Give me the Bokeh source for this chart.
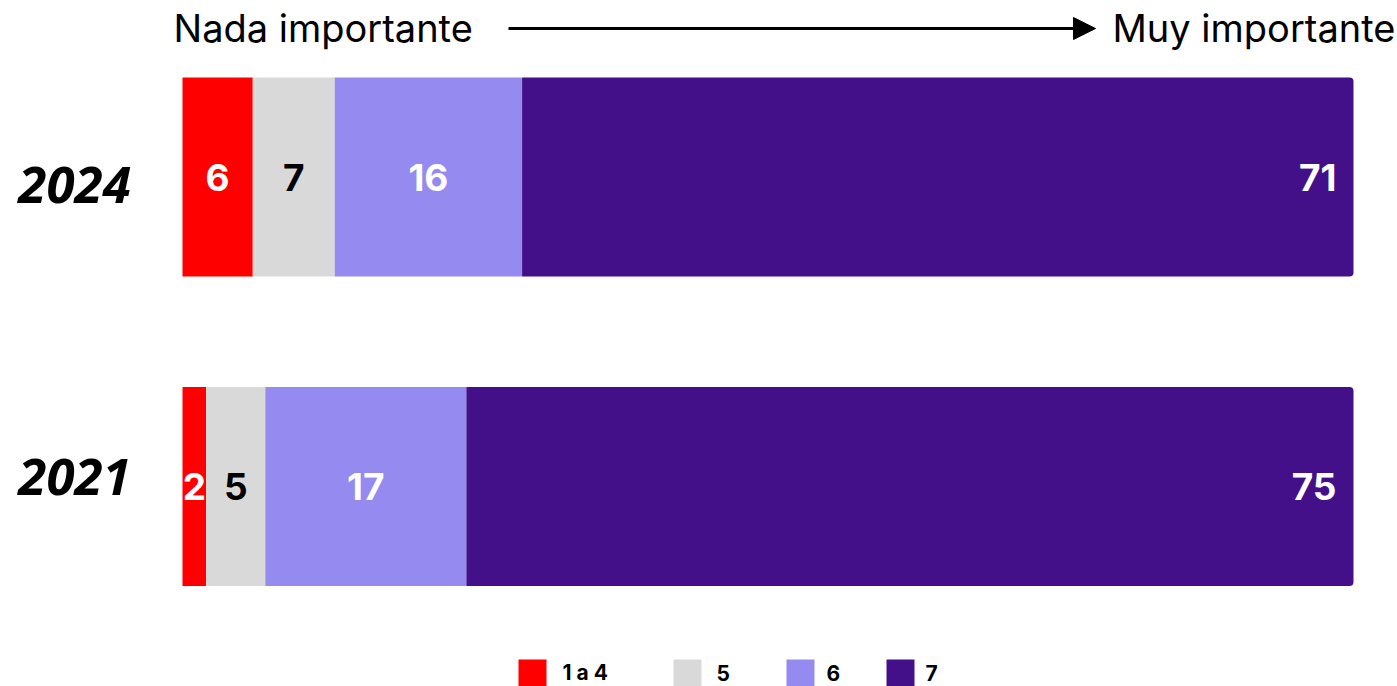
from bokeh.plotting import figure
from bokeh.models import Range1d, ColumnDataSource, Label, Arrow, NormalHead, BoxAnnotation
from bokeh.core.properties import value
from bokeh.embed import file_html
from bokeh.resources import INLINE

# ---- data ----
years = ["2024", "2021"]
categories = ["1 a 4", "5", "6", "7"]
v_1a4 = [6, 2]
v_5 = [7, 5]
v_6 = [16, 17]
v_7 = [71, 75]
colors = ["#FF0000", "#D9D9D9", "#958AF0", "#43108A"]
label_colors = ["white", "black", "white", "white"]

series = [v_1a4, v_5, v_6, v_7]
totals = [sum(s[i] for s in series) for i in range(len(years))]

W, H = 1397, 686
FONT = "Inter"

p = figure(width=W, height=H, output_backend="svg", toolbar_location=None,
           x_axis_location=None, y_axis_location=None, min_border=0,
           x_range=Range1d(-15.542, 103.757), y_range=Range1d(1.6462, -0.5703))
p.grid.visible = False
p.outline_line_color = None
p.background_fill_color = "white"
p.border_fill_color = "white"

ypos = list(range(len(years)))
left = [0.0] * len(years)
for k, (vals, col, lc) in enumerate(zip(series, colors, label_colors)):
    pct = [v / t * 100 for v, t in zip(vals, totals)]
    right = [l + w for l, w in zip(left, pct)]
    src = ColumnDataSource(dict(y=ypos, left=left, right=right, v=[str(v) for v in vals],
                                mid=[(l + r) / 2 for l, r in zip(left, right)]))
    kw = {}
    if k == len(series) - 1:
        kw["border_radius"] = (0, 4, 4, 0)
    p.hbar(y="y", left="left", right="right", height=0.643, source=src,
           fill_color=col, line_color=None, **kw)
    if k == len(series) - 1:
        p.text(x="right", y="y", text="v", source=src, x_offset=-17,
               text_align="right", text_baseline="middle", text_color=lc,
               text_font=value(FONT), text_font_style="bold", text_font_size="37px")
    else:
        p.text(x="mid", y="y", text="v", source=src,
               text_align="center", text_baseline="middle", text_color=lc,
               text_font=value(FONT), text_font_style="bold", text_font_size="37px")
    left = right

# year labels
ysrc = ColumnDataSource(dict(x=[-9.22] * len(years), y=ypos, t=years, yo=[8, -10]))
p.text(x="x", y="y", text="t", source=ysrc, y_offset="yo", text_align="center",
       text_baseline="middle", text_color="black", text_font=value("Noto Sans"),
       text_font_style="bold italic", text_font_size="51px")

# header
p.add_layout(Label(x=173, y=659, x_units="screen", y_units="screen", text="Nada importante",
                   text_font=FONT, text_font_size="38px", text_color="black",
                   text_baseline="alphabetic", text_align="left"))
p.add_layout(Label(x=1112, y=659, x_units="screen", y_units="screen", text="Muy importante",
                   text_font=FONT, text_font_size="38px", text_color="black",
                   text_baseline="alphabetic", text_align="left"))
p.add_layout(Arrow(x_start=508, y_start=658, x_end=1095, y_end=658,
                   start_units="screen", end_units="screen", line_width=3, line_color="black",
                   end=NormalHead(size=22, fill_color="black", line_color="black")))

# legend
sq_x = [518, 673, 786, 886]
txt_x = [562, 716, 826, 925]
for cat, col, sx, tx in zip(categories, colors, sq_x, txt_x):
    p.add_layout(BoxAnnotation(left=sx, right=sx + 28, bottom=-1, top=27,
                               left_units="screen", right_units="screen",
                               top_units="screen", bottom_units="screen",
                               fill_color=col, fill_alpha=1, line_color=None))
    p.add_layout(Label(x=tx, y=14, x_units="screen", y_units="screen", text=cat,
                       text_font=FONT, text_font_style="bold", text_font_size="21px",
                       text_color="black", text_baseline="middle", text_align="left"))

open("out.html", "w").write(file_html(p, INLINE))
